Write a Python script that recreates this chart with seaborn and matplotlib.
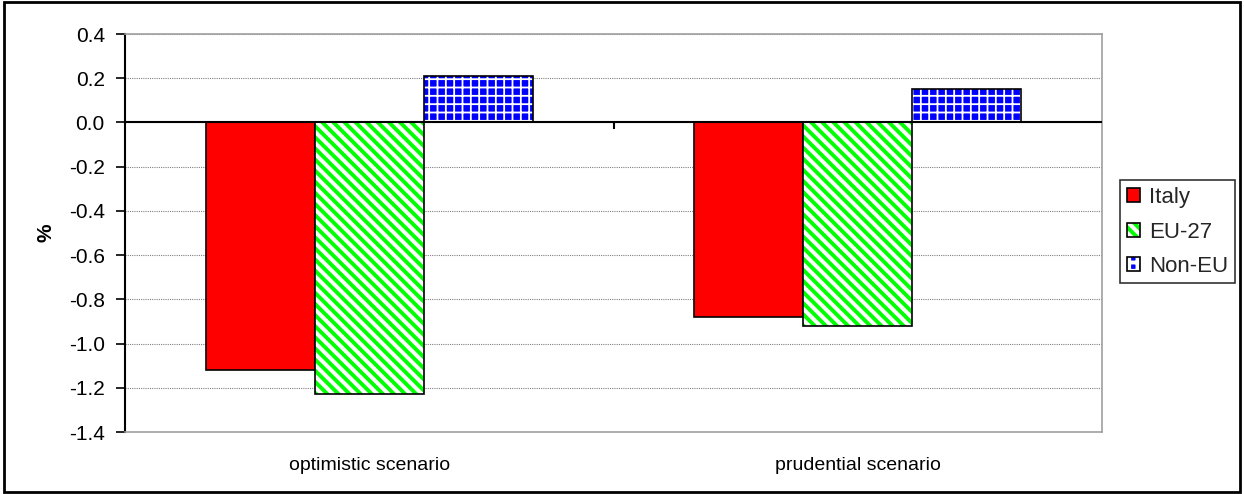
import matplotlib
matplotlib.use("Agg")
import matplotlib.pyplot as plt
import seaborn as sns
import numpy as np
import pandas as pd
from matplotlib.patches import Patch, Rectangle

# data
scenarios = ['optimistic scenario', 'prudential scenario']
regions = ['Italy', 'EU-27', 'Non-EU']
italy = [-1.12, -0.88]
eu27 = [-1.23, -0.92]
non_eu = [0.21, 0.15]

sns.set_theme(style="white")
plt.rcParams['font.family'] = ['Liberation Sans', 'DejaVu Sans']
plt.rcParams['hatch.linewidth'] = 2.8

df = pd.DataFrame({
    'scenario': scenarios * 3,
    'region': [r for r in regions for _ in scenarios],
    'value': italy + eu27 + non_eu,
})

fig = plt.figure(figsize=(12.44, 4.94), dpi=100)
ax = fig.add_axes([125/1244, 1 - 432/494, 977/1244, 398/494])

sns.barplot(data=df, x='scenario', y='value', hue='region', hue_order=regions,
            palette=['#FF0000', '#FFFFFF', '#0000FF'], saturation=1,
            width=0.67, gap=0, errorbar=None, edgecolor='black', linewidth=1.2,
            legend=False, ax=ax, zorder=3)

# hatch fills: green stripes on white, white lattice on blue
hatch_spec = {1: ('\\\\\\', '#00FF00', 2.8), 2: ('++', '#FFFFFF', 1.3)}
for i, cont in enumerate(ax.containers):
    if i not in hatch_spec:
        continue
    h, hc, hlw = hatch_spec[i]
    for bar in cont:
        bar.set_hatch(h)
        bar.set_edgecolor(hc)
        bar.set_linewidth(0)
        if hasattr(bar, 'set_hatch_linewidth'):
            bar.set_hatch_linewidth(hlw)
        ax.add_patch(Rectangle(bar.get_xy(), bar.get_width(), bar.get_height(),
                               fill=False, edgecolor='black', lw=1.2, zorder=4))

ax.set_xlim(-0.5, 1.5)
ax.set_ylim(-1.4, 0.4)
ax.set_yticks(np.round(np.linspace(-1.4, 0.4, 10), 1))
ax.yaxis.set_major_formatter(matplotlib.ticker.FormatStrFormatter('%.1f'))
ax.yaxis.grid(True, color='#808080', linestyle=(0, (1, 1)), linewidth=0.8, zorder=0)
ax.set_axisbelow(True)

# category axis sits on zero
ax.axhline(0, color='black', lw=1.5, zorder=5)
ax.vlines([0.5], -0.03, 0, color='black', lw=1.5, zorder=5)

for side in ['top', 'right', 'bottom']:
    ax.spines[side].set_color('#a0a0a0')
    ax.spines[side].set_linewidth(1.2)
ax.spines['left'].set_color('black')
ax.spines['left'].set_linewidth(1.5)

ax.tick_params(axis='y', left=True, length=6.5, width=1.2, color='black',
               labelsize=15, pad=8, labelcolor='black')
ax.tick_params(axis='x', bottom=False, length=0, labelsize=14, pad=18, labelcolor='black')
ax.set_xlabel('')
ax.set_ylabel('%', fontsize=15, fontweight='bold', color='black')
ax.yaxis.set_label_coords(-0.071, 0.5)

handles = [
    Patch(facecolor='#FF0000', edgecolor='black', lw=1.2),
    (Patch(facecolor='white', edgecolor='#00FF00', hatch='\\\\\\', lw=0),
     Patch(fill=False, edgecolor='black', lw=1.2)),
    (Patch(facecolor='#0000FF', edgecolor='white', hatch='++', lw=0),
     Patch(fill=False, edgecolor='black', lw=1.2)),
]
leg = fig.legend(handles, regions, loc='center left',
                 bbox_to_anchor=(1120/1244, 1 - 232/494), fontsize=16,
                 frameon=True, fancybox=False, edgecolor='black',
                 handlelength=0.6, handleheight=0.6, handletextpad=0.4,
                 labelspacing=0.6, borderpad=0.3, borderaxespad=0)
leg.get_frame().set_linewidth(1.2)

# outer chart border
fig.patches.append(Rectangle((0.003, 0.005), 0.994, 0.99, transform=fig.transFigure,
                             fill=False, edgecolor='black', lw=2))

fig.savefig('out.png', dpi=100)
